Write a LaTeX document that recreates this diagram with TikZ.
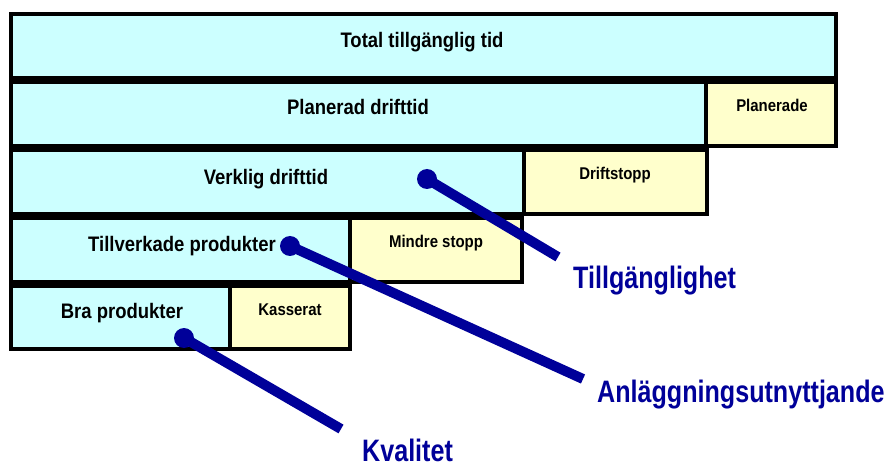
\documentclass[tikz,border=0pt]{standalone}
\usepackage{fontspec}
\setmainfont{Liberation Sans}[FakeStretch=0.88]
\newfontfamily\bluefont{Liberation Sans}[FakeStretch=0.81]
\definecolor{boxcyan}{HTML}{CCFFFF}
\definecolor{boxyellow}{HTML}{FFFFCC}
\definecolor{navy}{RGB}{0,0,153}
\begin{document}
\begin{tikzpicture}[x=1pt,y=-1pt,
  cbox/.style={draw=black,line width=3.6pt,fill=boxcyan},
  ybox/.style={draw=black,line width=3.6pt,fill=boxyellow},
  bigtxt/.style={anchor=base,inner sep=0pt,font=\fontsize{21}{24}\selectfont\bfseries},
  smalltxt/.style={anchor=base,inner sep=0pt,font=\fontsize{17}{20}\selectfont\bfseries},
  bluetxt/.style={anchor=base west,inner sep=0pt,text=navy,font=\bluefont\fontsize{31}{34}\selectfont\bfseries},
  conn/.style={draw=navy,line width=10pt},
  dot/.style={fill=navy}]
\useasboundingbox (0,0) rectangle (892,465);
% boxes
\draw[cbox] (11,14) rectangle (836,78);
\draw[cbox] (11,82) rectangle (706,146);
\draw[ybox] (706,82) rectangle (836,146);
\draw[cbox] (11,150) rectangle (524,214);
\draw[ybox] (524,150) rectangle (707,214);
\draw[cbox] (11,218) rectangle (350,282);
\draw[ybox] (350,218) rectangle (522,282);
\draw[cbox] (11,286) rectangle (230,349);
\draw[ybox] (230,286) rectangle (350,349);
% texts
\node[bigtxt] (total) at (422,47.5) {Total tillgänglig tid};
\node[bigtxt] (plan) at (358,115) {Planerad drifttid};
\node[smalltxt] (plande) at (772,112) {Planerade};
\node[bigtxt] (verk) at (266,185) {Verklig drifttid};
\node[smalltxt] (drift) at (615,180) {Driftstopp};
\node[bigtxt] (tillv) at (182,252) {Tillverkade produkter};
\node[smalltxt] (mindre) at (436,248) {Mindre stopp};
\node[bigtxt] (bra) at (122,319) {Bra produkter};
\node[smalltxt] (kass) at (290,316) {Kasserat};
% labels
\node[bluetxt] (tg) at (573,289) {Tillgänglighet};
\node[bluetxt] (au) at (597,402) {Anläggningsutnyttjande};
\node[bluetxt] (kv) at (362,461) {Kvalitet};
% connectors
\coordinate (d1) at (427,179);
\coordinate (e1) at (558,257);
\coordinate (d2) at (290,246);
\coordinate (e2) at (583,379);
\coordinate (d3) at (184,338);
\coordinate (e3) at (341,429);
\draw[conn] (d1) -- (e1);
\draw[conn] (d2) -- (e2);
\draw[conn] (d3) -- (e3);
\fill[dot] (d1) circle (10);
\fill[dot] (d2) circle (10);
\fill[dot] (d3) circle (10);
\end{tikzpicture}
\end{document}
